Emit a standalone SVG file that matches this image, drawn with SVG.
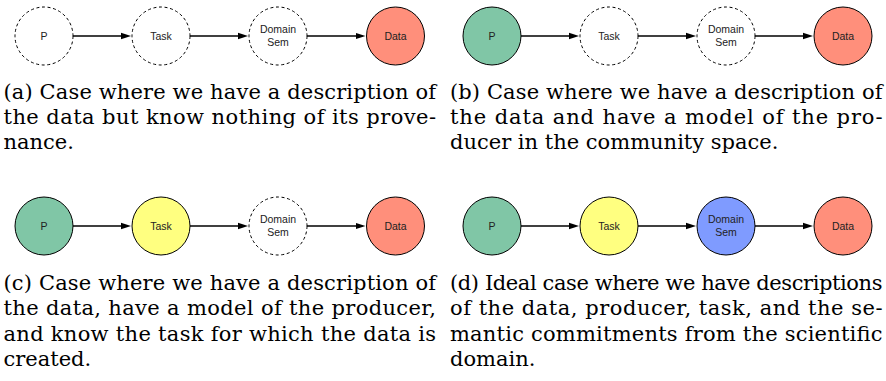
<svg xmlns="http://www.w3.org/2000/svg" width="886" height="381" viewBox="0 0 886 381">
<defs>
<marker id="ah" markerUnits="userSpaceOnUse" markerWidth="11" markerHeight="9" refX="7" refY="4" orient="auto">
<path d="M0,0.8 L10,4 L0,7.2 z" fill="#000"/>
</marker>
<style>
.n{stroke:#000;stroke-width:1}
.d{fill:#fff;stroke-dasharray:3 2.6}
.g{fill:#80c6a6}
.y{fill:#ffff80}
.b{fill:#7f9bff}
.r{fill:#ff8f7b}
.l{font-size:10.5px;fill:#222;text-anchor:middle}
.c line{stroke:#000;stroke-width:1.3;marker-end:url(#ah)}
.cap{font-size:21px;fill:#000}
</style>
</defs>
<rect width="886" height="381" fill="#fff"/>

<g font-family="Liberation Sans, Arial, sans-serif">
<!-- panel a -->
<g id="a-P"><circle class="n d" cx="44" cy="36" r="29"/><text class="l" x="44" y="39.8">P</text></g>
<g id="a-Task"><circle class="n d" cx="161" cy="36" r="29"/><text class="l" x="161" y="39.8">Task</text></g>
<g id="a-Dom"><circle class="n d" cx="278" cy="36" r="29"/><text class="l" x="278" y="33">Domain</text><text class="l" x="278" y="46">Sem</text></g>
<g id="a-Data"><circle class="n r" cx="395.5" cy="36" r="29"/><text class="l" x="395.5" y="39.8">Data</text></g>
<g id="a-conn" class="c">
<line x1="73" y1="36" x2="128" y2="36"/>
<line x1="190" y1="36" x2="245" y2="36"/>
<line x1="307" y1="36" x2="362.5" y2="36"/>
</g>

<!-- panel b -->
<g id="b-P"><circle class="n g" cx="492" cy="36" r="29"/><text class="l" x="492" y="39.8">P</text></g>
<g id="b-Task"><circle class="n d" cx="609" cy="36" r="29"/><text class="l" x="609" y="39.8">Task</text></g>
<g id="b-Dom"><circle class="n d" cx="726" cy="36" r="29"/><text class="l" x="726" y="33">Domain</text><text class="l" x="726" y="46">Sem</text></g>
<g id="b-Data"><circle class="n r" cx="843" cy="36" r="29"/><text class="l" x="843" y="39.8">Data</text></g>
<g id="b-conn" class="c">
<line x1="521" y1="36" x2="576" y2="36"/>
<line x1="638" y1="36" x2="693" y2="36"/>
<line x1="755" y1="36" x2="810" y2="36"/>
</g>

<!-- panel c -->
<g id="c-P"><circle class="n g" cx="44" cy="226" r="29"/><text class="l" x="44" y="229.8">P</text></g>
<g id="c-Task"><circle class="n y" cx="161" cy="226" r="29"/><text class="l" x="161" y="229.8">Task</text></g>
<g id="c-Dom"><circle class="n d" cx="278" cy="226" r="29"/><text class="l" x="278" y="223">Domain</text><text class="l" x="278" y="236">Sem</text></g>
<g id="c-Data"><circle class="n r" cx="395.5" cy="226" r="29"/><text class="l" x="395.5" y="229.8">Data</text></g>
<g id="c-conn" class="c">
<line x1="73" y1="226" x2="128" y2="226"/>
<line x1="190" y1="226" x2="245" y2="226"/>
<line x1="307" y1="226" x2="362.5" y2="226"/>
</g>

<!-- panel d -->
<g id="d-P"><circle class="n g" cx="492" cy="226" r="29"/><text class="l" x="492" y="229.8">P</text></g>
<g id="d-Task"><circle class="n y" cx="609" cy="226" r="29"/><text class="l" x="609" y="229.8">Task</text></g>
<g id="d-Dom"><circle class="n b" cx="726" cy="226" r="29"/><text class="l" x="726" y="223">Domain</text><text class="l" x="726" y="236">Sem</text></g>
<g id="d-Data"><circle class="n r" cx="843" cy="226" r="29"/><text class="l" x="843" y="229.8">Data</text></g>
<g id="d-conn" class="c">
<line x1="521" y1="226" x2="576" y2="226"/>
<line x1="638" y1="226" x2="693" y2="226"/>
<line x1="755" y1="226" x2="810" y2="226"/>
</g>
</g>

<!-- captions -->
<g font-family="DejaVu Serif, Liberation Serif, serif">
<g id="cap-a" class="cap">
<text x="3.5" y="98.5" textLength="432.5" lengthAdjust="spacing">(a) Case where we have a description of</text>
<text x="3.5" y="123.8" textLength="432.5" lengthAdjust="spacing">the data but know nothing of its prove-</text>
<text x="3.5" y="149.1">nance.</text>
</g>
<g id="cap-b" class="cap">
<text x="450" y="98.5" textLength="432.5" lengthAdjust="spacing">(b) Case where we have a description of</text>
<text x="450" y="123.8" textLength="432.5" lengthAdjust="spacing">the data and have a model of the pro-</text>
<text x="450" y="149.1">ducer in the community space.</text>
</g>
<g id="cap-c" class="cap">
<text x="3.5" y="290" textLength="432.5" lengthAdjust="spacing">(c) Case where we have a description of</text>
<text x="3.5" y="315.3" textLength="432.5" lengthAdjust="spacing">the data, have a model of the producer,</text>
<text x="3.5" y="340.6" textLength="432.5" lengthAdjust="spacing">and know the task for which the data is</text>
<text x="3.5" y="366">created.</text>
</g>
<g id="cap-d" class="cap">
<text x="450" y="290" textLength="432.5" lengthAdjust="spacing">(d) Ideal case where we have descriptions</text>
<text x="450" y="315.3" textLength="432.5" lengthAdjust="spacing">of the data, producer, task, and the se-</text>
<text x="450" y="340.6" textLength="432.5" lengthAdjust="spacing">mantic commitments from the scientific</text>
<text x="450" y="366">domain.</text>
</g>
</g>
</svg>
